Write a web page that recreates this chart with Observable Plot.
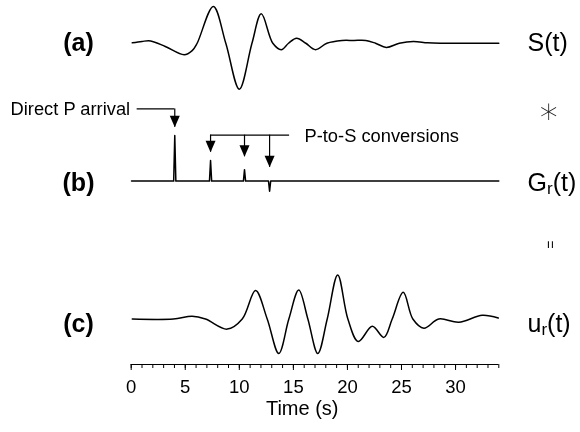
<!DOCTYPE html>
<html>
<head>
<meta charset="utf-8">
<script src="https://cdn.jsdelivr.net/npm/d3@7"></script>
<script src="https://cdn.jsdelivr.net/npm/@observablehq/plot@0.6"></script>
<style>
  html, body { margin: 0; padding: 0; background: #fff; }
  svg { display: block; filter: grayscale(1); }
</style>
</head>
<body>
<script>
// Source wavelet S(t): times (s) and normalised amplitudes
const sTime = [0.1, 1.0, 1.8, 3.15, 4.9, 5.64, 6.1, 7.6, 8.75, 10.0, 11.17, 12.03, 13.1, 13.88, 14.55, 15.3, 16.15, 17.05, 18.1, 19.5, 20.6, 21.7, 22.6, 23.6, 24.8, 26.1, 27.4, 28.6, 30.5, 34];
const sAmp  = [0.01, 0.04, 0.05, -0.07, -0.25, -0.16, 0, 0.80, 0, -1.0, 0, 0.64, 0, -0.14, 0, 0.11, 0, -0.14, 0, 0.06, 0.06, 0.06, 0, -0.09, 0, 0.04, 0.01, 0, 0, 0];

// Receiver-side Green's function Gr(t): spike arrival times (s) and amplitudes
const gTime = [4.03, 7.34, 10.48, 12.8];
const gAmp  = [0.99, 0.45, 0.25, -0.22];

// Recorded radial seismogram ur(t)
const uTime = [0.1, 3.9, 5.64, 6.87, 8.88, 10.27, 11.5, 12.58, 13.65, 14.58, 15.5, 16.34, 17.26, 18.13, 19.1, 20.04, 21.0, 22.3, 23.37, 24.14, 25.16, 26.05, 27.07, 28.45, 30.3, 32.47, 33.95];
const uAmp  = [0, 0, 0.06, 0, -0.22, 0, 0.62, 0, -0.75, 0, 0.63, 0, -0.75, 0, 0.96, 0, -0.49, -0.16, -0.40, 0, 0.58, 0, -0.20, 0, -0.07, 0.08, 0.02];

// Panel tags, right-hand names and operators
const panelTags   = ["(a)", "(b)", "(c)"];
const traceNames  = ["S(t)", "G_r(t)", "u_r(t)"];
const operators   = ["∗", "="];
const xMajorTicks = [0, 5, 10, 15, 20, 25, 30];
const xMinorTicks = d3.range(0, 35, 1);
const xLabel      = "Time (s)";
const directLabel = "Direct P arrival";
const convLabel   = "P-to-S conversions";

// Vertical layout: each trace sits on its own baseline level
const levels = [6, 3, 0];
const opLevels = [4.52, 1.62];
const labelShift = [0, -0.03, -0.1];
const xDomain = [0, 34];
const yDomain = [-0.99, 6.93];

const traceS = sTime.map((t, i) => ({t, v: levels[0] + sAmp[i]}));
const traceU = uTime.map((t, i) => ({t, v: levels[2] + uAmp[i]}));
// spike train on a flat baseline, each spike a narrow triangle
const spikeHalfWidth = 0.1;
const traceG = [{t: 0.03, v: levels[1]}];
gTime.forEach((t, i) => {
  traceG.push({t: t - spikeHalfWidth, v: levels[1]});
  traceG.push({t, v: levels[1] + gAmp[i]});
  traceG.push({t: t + spikeHalfWidth, v: levels[1]});
});
traceG.push({t: xDomain[1], v: levels[1]});

// Annotation arrows pointing at the spikes
const directLevel = 4.57;
const directStart = 0.55;
const convLevel = 4.0;
const convEnd = 14.65;
const tipLevels = [4.17, 3.63, 3.53, 3.30];
const arrows = gTime.map((t, i) => ({t, top: i === 0 ? directLevel : convLevel, tip: tipLevels[i]}));

const arrowHead = {
  draw(context) {
    context.moveTo(0, 0);
    context.lineTo(-5, -11.5);
    context.lineTo(5, -11.5);
    context.closePath();
  }
};

const font = "Liberation Sans, Arial, Helvetica, sans-serif";

const chart = Plot.plot({
  width: 580,
  height: 432,
  marginTop: 0,
  marginBottom: 68,
  marginLeft: 130.7,
  marginRight: 81.7,
  style: {fontFamily: font, background: "#fff", color: "#000"},
  x: {domain: xDomain},
  y: {domain: yDomain, axis: null},
  marks: [
    // x axis
    Plot.ruleY([yDomain[0]], {stroke: "#000", strokeWidth: 1}),
    Plot.axisX({ticks: xMinorTicks, tickSize: 4, fill: "none", label: null, stroke: "#000"}),
    Plot.axisX({ticks: xMajorTicks, tickSize: 6, tickPadding: 9, fontSize: 18.5, label: null, stroke: "#000", fill: "#000"}),
    Plot.text([xLabel], {frameAnchor: "bottom", lineAnchor: "top", dy: 36, dx: -12.8, fontSize: 20, fill: "#000"}),

    // traces
    Plot.line(traceS, {x: "t", y: "v", curve: "catmull-rom", stroke: "#000", strokeWidth: 1.5}),
    Plot.line(traceG, {x: "t", y: "v", curve: "linear", stroke: "#000", strokeWidth: 1.5}),
    Plot.line(traceU, {x: "t", y: "v", curve: "catmull-rom", stroke: "#000", strokeWidth: 1.5}),

    // arrows
    Plot.ruleY([directLevel], {x1: directStart, x2: gTime[0], stroke: "#000", strokeWidth: 1.2}),
    Plot.ruleY([convLevel], {x1: gTime[1], x2: convEnd, stroke: "#000", strokeWidth: 1.2}),
    Plot.ruleX(arrows, {x: "t", y1: "top", y2: "tip", stroke: "#000", strokeWidth: 1.2}),
    Plot.dot(arrows, {x: "t", y: "tip", symbol: arrowHead, fill: "#000", stroke: "none"}),
    Plot.text([directLabel], {x: directStart, y: directLevel, dx: -7, textAnchor: "end", fontSize: 18.3, fill: "#000"}),
    Plot.text([convLabel], {x: 16.03, y: convLevel, dy: 1, textAnchor: "start", fontSize: 18.3, fill: "#000"}),

    // panel tags on the left
    Plot.text(panelTags, {y: (d, i) => levels[i] + labelShift[i], frameAnchor: "left", dx: -52.7, textAnchor: "middle", fontSize: 25, fontWeight: "bold", fill: "#000"}),
    // trace names on the right
    Plot.text(traceNames, {y: (d, i) => levels[i] + labelShift[i], frameAnchor: "right", dx: 28.7, textAnchor: "start", fontSize: 25, fill: "#000"}),
    // convolution and equality operators
    Plot.text([operators[0]], {y: opLevels[0], frameAnchor: "right", dx: 49.7, textAnchor: "middle", fontSize: 36, fontFamily: "DejaVu Sans", fontWeight: 200, fill: "#222"}),
    Plot.text([operators[1]], {y: opLevels[1], frameAnchor: "right", dx: 51, textAnchor: "middle", fontSize: 14, rotate: 90, fill: "#000"})
  ]
});

// render the "_r" part of the trace names as a subscript
d3.select(chart).selectAll("text").each(function () {
  const m = /^(.*)_(\w)(.*)$/.exec(this.textContent);
  if (!m) return;
  const t = d3.select(this);
  t.text(null);
  t.append("tspan").text(m[1]);
  t.append("tspan").attr("font-size", "17").attr("dy", "3.5").text(m[2]);
  t.append("tspan").attr("dy", "-3.5").text(m[3]);
});

document.body.appendChild(chart);
</script>
</body>
</html>
